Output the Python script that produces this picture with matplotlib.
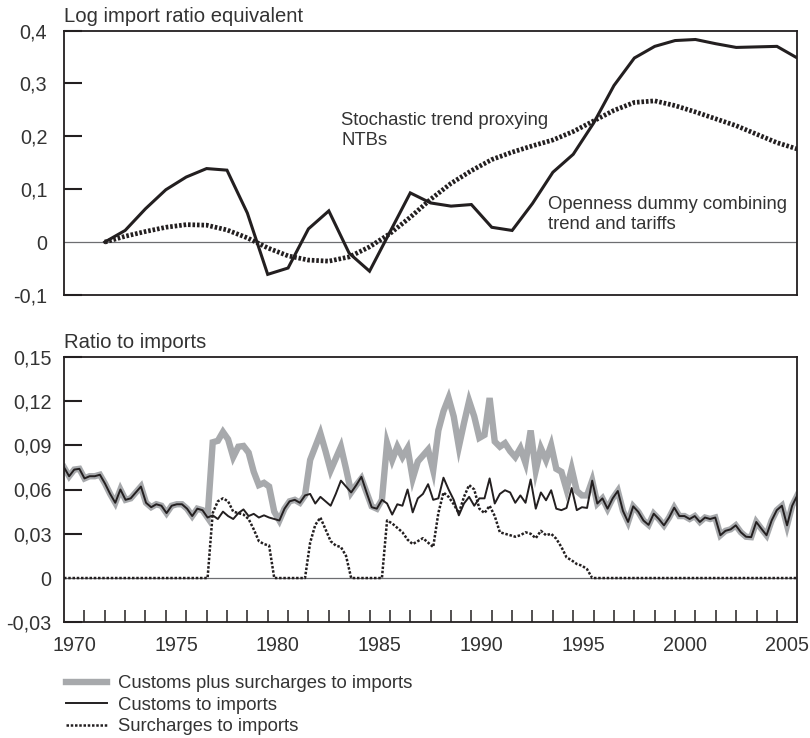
import numpy as np
import matplotlib.pyplot as plt
from matplotlib.ticker import FuncFormatter

plt.rcParams['font.family'] = ['Liberation Sans', 'DejaVu Sans']

# Annual log import ratio equivalents, 1972-2006
years = np.arange(1972, 2007)
openness_dummy = [0.000, 0.022, 0.063, 0.099, 0.123, 0.139, 0.136, 0.055, -0.061, -0.049,
                  0.025, 0.059, -0.021, -0.055, 0.019, 0.093, 0.074, 0.068, 0.071, 0.028,
                  0.022, 0.073, 0.132, 0.166, 0.225, 0.296, 0.348, 0.370, 0.381, 0.383,
                  0.375, 0.368, 0.369, 0.370, 0.348]
stochastic_trend = [0.000, 0.011, 0.020, 0.028, 0.033, 0.032, 0.023, 0.008, -0.011, -0.026,
                    -0.034, -0.036, -0.028, -0.009, 0.016, 0.047, 0.081, 0.111, 0.135, 0.156,
                    0.170, 0.182, 0.193, 0.209, 0.229, 0.249, 0.264, 0.267, 0.258, 0.246,
                    0.233, 0.220, 0.204, 0.188, 0.176]

# Quarterly ratios to imports, 1970-2005
customs_plus_surcharges = [
    0.075, 0.069, 0.0735, 0.074, 0.0675, 0.069, 0.069, 0.070, 0.064, 0.057,
    0.051, 0.060, 0.053, 0.054, 0.058, 0.062, 0.051, 0.048, 0.050, 0.049,
    0.044, 0.049, 0.050, 0.050, 0.047, 0.042, 0.047, 0.046, 0.041, 0.092,
    0.093, 0.099, 0.094, 0.082, 0.089, 0.0895, 0.085, 0.072, 0.063, 0.0645,
    0.062, 0.045, 0.039, 0.047, 0.052, 0.053, 0.051, 0.056, 0.080, 0.089,
    0.098, 0.086, 0.073, 0.081, 0.089, 0.074, 0.058, 0.063, 0.0675, 0.058,
    0.0486, 0.047, 0.053, 0.0914, 0.080, 0.089, 0.082, 0.088, 0.0675, 0.079,
    0.083, 0.087, 0.073, 0.100, 0.113, 0.122, 0.1095, 0.089, 0.105, 0.120,
    0.1095, 0.095, 0.097, 0.122, 0.0925, 0.089, 0.0914, 0.086, 0.082, 0.088,
    0.078, 0.100, 0.073, 0.088, 0.080, 0.090, 0.074, 0.072, 0.060, 0.074,
    0.059, 0.056, 0.056, 0.066, 0.0505, 0.054, 0.047, 0.054, 0.059, 0.0455,
    0.038, 0.0486, 0.0448, 0.039, 0.036, 0.0436, 0.040, 0.0357, 0.041, 0.0477,
    0.042, 0.042, 0.040, 0.042, 0.038, 0.041, 0.040, 0.041, 0.029, 0.032,
    0.033, 0.0357, 0.031, 0.028, 0.0277, 0.038, 0.0334, 0.029, 0.039, 0.046,
    0.049, 0.0357, 0.049, 0.056]
customs = [
    0.075, 0.069, 0.0735, 0.074, 0.0675, 0.069, 0.069, 0.070, 0.064, 0.057,
    0.051, 0.060, 0.053, 0.054, 0.058, 0.062, 0.051, 0.048, 0.050, 0.049,
    0.044, 0.049, 0.050, 0.050, 0.047, 0.042, 0.047, 0.046, 0.041, 0.0425,
    0.040, 0.045, 0.042, 0.040, 0.044, 0.0465, 0.042, 0.0435, 0.041, 0.0425,
    0.041, 0.040, 0.039, 0.047, 0.052, 0.053, 0.051, 0.056, 0.057, 0.0505,
    0.055, 0.052, 0.049, 0.057, 0.066, 0.062, 0.058, 0.063, 0.0686, 0.058,
    0.048, 0.047, 0.053, 0.0505, 0.043, 0.050, 0.049, 0.060, 0.0445, 0.054,
    0.057, 0.0636, 0.053, 0.054, 0.068, 0.060, 0.053, 0.0425, 0.0505, 0.055,
    0.049, 0.054, 0.054, 0.0675, 0.0505, 0.057, 0.0595, 0.058, 0.051, 0.056,
    0.051, 0.0668, 0.047, 0.058, 0.0527, 0.0595, 0.047, 0.046, 0.0475, 0.061,
    0.046, 0.048, 0.0475, 0.066, 0.0505, 0.054, 0.047, 0.054, 0.059, 0.0455,
    0.038, 0.0486, 0.0448, 0.039, 0.036, 0.0436, 0.040, 0.0357, 0.041, 0.0477,
    0.042, 0.042, 0.040, 0.042, 0.038, 0.041, 0.040, 0.041, 0.029, 0.032,
    0.033, 0.0357, 0.031, 0.028, 0.0277, 0.038, 0.0334, 0.029, 0.039, 0.046,
    0.049, 0.0357, 0.049, 0.056]
surcharges = (
    [0.0] * 29
    + [0.044, 0.052, 0.054, 0.052, 0.045, 0.044, 0.043, 0.040, 0.033, 0.025, 0.023, 0.022]
    + [0.0] * 7
    + [0.024, 0.036, 0.041, 0.033, 0.025, 0.022, 0.021, 0.015]
    + [0.0] * 7
    + [0.039, 0.037, 0.034, 0.031, 0.026, 0.023, 0.025, 0.027, 0.024, 0.021,
       0.044, 0.058, 0.055, 0.050, 0.044, 0.055, 0.063, 0.060, 0.047, 0.044,
       0.049, 0.042, 0.031, 0.030, 0.029, 0.028, 0.029, 0.031, 0.030, 0.027,
       0.032, 0.029, 0.030, 0.0266, 0.021, 0.014, 0.012, 0.0095, 0.0084, 0.006]
    + [0.0] * 41
)
quarters = np.linspace(1970, 2006, len(customs))

label_years = [1970, 1975, 1980, 1985, 1990, 1995, 2000, 2005]

ink = '#231f20'
text_col = '#333333'
grey = '#a7a9ac'


def comma_fmt(decimals):
    def fmt(v, pos):
        if abs(v) < 1e-9:
            return '0'
        return f'{v:.{decimals}f}'.replace('.', ',')
    return FuncFormatter(fmt)


fig = plt.figure(figsize=(8.1, 7.38), dpi=100)
W, H = 810, 738
ax1 = fig.add_axes([64 / W, 1 - 295 / H, (797.3 - 64) / W, (295 - 30.5) / H])
ax2 = fig.add_axes([64 / W, 1 - 622.3 / H, (797.3 - 64) / W, (622.3 - 356.7) / H])

for ax in (ax1, ax2):
    ax.set_xlim(1970, 2006)
    for s in ax.spines.values():
        s.set_linewidth(1.3)
        s.set_color(ink)
    ax.axhline(0, color='#6d6e71', lw=0.9, zorder=1)

# --- top panel ---
ax1.plot(years, openness_dummy, color=ink, lw=2.2, solid_joinstyle='miter', zorder=3)
ax1.plot(years, stochastic_trend, color=ink, lw=3.4, linestyle=(0, (0.55, 0.4)),
         dash_capstyle='butt', zorder=3)
ax1.set_ylim(-0.1, 0.4)
ax1.set_yticks([-0.1, 0, 0.1, 0.2, 0.3, 0.4])
ax1.yaxis.set_major_formatter(comma_fmt(1))
ax1.set_xticks([])
ax1.tick_params(axis='y', direction='in', length=13, width=1.5, color=ink,
                pad=12, labelsize=14.2, labelcolor=text_col)
ax1.yaxis.get_major_ticks()[1].tick1line.set_visible(False)
ax1.annotate('Log import ratio equivalent', xy=(0, 1), xycoords='axes fraction',
             xytext=(0, 6.3), textcoords='offset points', ha='left', va='baseline',
             fontsize=14.6, color=text_col)
ax1.text(1983.6, 0.211, 'Stochastic trend proxying\nNTBs', ha='left', va='center',
         fontsize=13.3, color=text_col)
ax1.text(1993.75, 0.052, 'Openness dummy combining\ntrend and tariffs', ha='left',
         va='center', fontsize=13.3, color=text_col)

# --- bottom panel ---
l_grey, = ax2.plot(quarters, customs_plus_surcharges, color=grey, lw=4.6,
                   solid_joinstyle='miter', zorder=2,
                   label='Customs plus surcharges to imports')
l_black, = ax2.plot(quarters, customs, color=ink, lw=1.4, zorder=3,
                    label='Customs to imports')
l_dot, = ax2.plot(quarters, surcharges, color=ink, lw=1.8, linestyle=(0, (1.0, 0.7)),
                  dash_capstyle='butt', zorder=4, label='Surcharges to imports')
ax2.set_ylim(-0.03, 0.15)
ax2.set_yticks([-0.03, 0, 0.03, 0.06, 0.09, 0.12, 0.15])
ax2.yaxis.set_major_formatter(comma_fmt(2))
ax2.tick_params(axis='y', direction='in', length=13, width=1.5, color=ink,
                pad=9, labelsize=14.2, labelcolor=text_col)
ax2.yaxis.get_major_ticks()[1].tick1line.set_visible(False)

ax2.set_xticks([y + 0.5 for y in label_years])
ax2.set_xticklabels([str(y) for y in label_years])
ax2.set_xticks(range(1971, 2006), minor=True)
ax2.tick_params(axis='x', which='major', length=0, pad=10, labelsize=14.2,
                labelcolor=text_col)
ax2.tick_params(axis='x', which='minor', direction='in', length=8.4, width=1.1,
                color=ink)
ax2.annotate('Ratio to imports', xy=(0, 1), xycoords='axes fraction',
             xytext=(0, 6.3), textcoords='offset points', ha='left', va='baseline',
             fontsize=14.6, color=text_col)

leg = fig.legend(handles=[l_grey, l_black, l_dot], loc='upper left',
                 bbox_to_anchor=(66 / W, 1 - 675 / H), frameon=False,
                 borderpad=0, borderaxespad=0, handlelength=2.2, handletextpad=0.6,
                 labelspacing=0.25, fontsize=13.3)
for t in leg.get_texts():
    t.set_color(text_col)

fig.savefig('out.png', dpi=100)
